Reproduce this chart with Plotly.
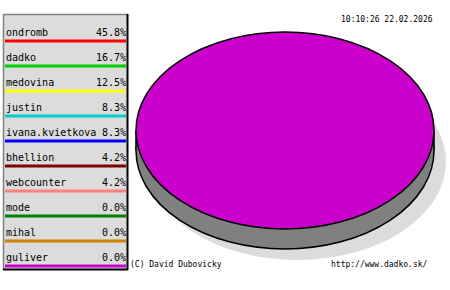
import plotly.graph_objects as go

names = ["ondromb", "dadko", "medovina", "justin", "ivana.kvietkova",
         "bhellion", "webcounter", "mode", "mihal", "guliver"]
percents = [45.8, 16.7, 12.5, 8.3, 8.3, 4.2, 4.2, 0.0, 0.0, 0.0]
colors = ["#ff0000", "#00d000", "#ffff00", "#00cccc", "#0000ff",
          "#800000", "#ff8080", "#008000", "#d08000", "#cc00cc"]
pie_color = "#cc00cc"
timestamp = "10:10:26 22.02.2026"
footer_left = "(C) David Dubovicky"
footer_right = "http://www.dadko.sk/"

W, H = 450, 290
fig = go.Figure()

shapes = []
annotations = []

# legend box
shapes.append(dict(type="rect", xref="x", yref="y", x0=3, x1=128, y0=14, y1=270,
                   fillcolor="#dcdcdc", line=dict(width=0), layer="below"))
shapes.append(dict(type="line", xref="x", yref="y", x0=3, x1=128, y0=14.5, y1=14.5,
                   line=dict(color="#808080", width=1.5)))
shapes.append(dict(type="line", xref="x", yref="y", x0=3.5, x1=3.5, y0=14, y1=270,
                   line=dict(color="#808080", width=1.5)))
shapes.append(dict(type="line", xref="x", yref="y", x0=127.5, x1=127.5, y0=14, y1=270,
                   line=dict(color="#000000", width=2)))
shapes.append(dict(type="line", xref="x", yref="y", x0=3, x1=128, y0=269.5, y1=269.5,
                   line=dict(color="#000000", width=2)))

row_h = 25
for i, (n, p, c) in enumerate(zip(names, percents, colors)):
    ty = 32 + row_h * i
    ly = 41 + row_h * i
    fig.add_trace(go.Scatter(x=[5, 126], y=[ly, ly], mode="lines",
                             line=dict(color=c, width=3), hoverinfo="skip",
                             showlegend=False))
    annotations.append(dict(x=3.5, y=ty, xref="x", yref="y", text=n, showarrow=False,
                            xanchor="left", yanchor="middle",
                            font=dict(family="DejaVu Sans Mono", size=10, color="#000")))
    annotations.append(dict(x=128, y=ty, xref="x", yref="y", text=f"{p:.1f}%",
                            showarrow=False, xanchor="right", yanchor="middle",
                            font=dict(family="DejaVu Sans Mono", size=10, color="#000")))

# 3D pie (all rendered in one colour as in reference)
cx, cy, rx, ry, depth = 285, 130.5, 149, 98.5, 20
sx, sy = 12, 11
shapes.append(dict(type="circle", xref="x", yref="y",
                   x0=cx - rx + sx, x1=cx + rx + sx, y0=cy - ry + depth + sy, y1=cy + ry + depth + sy,
                   fillcolor="#dcdcdc", line=dict(width=0)))
shapes.append(dict(type="circle", xref="x", yref="y",
                   x0=cx - rx, x1=cx + rx, y0=cy - ry + depth, y1=cy + ry + depth,
                   fillcolor="#808080", line=dict(color="#000", width=1.5)))
shapes.append(dict(type="rect", xref="x", yref="y",
                   x0=cx - rx, x1=cx + rx, y0=cy, y1=cy + depth,
                   fillcolor="#808080", line=dict(width=0)))
for xx in (cx - rx, cx + rx):
    shapes.append(dict(type="line", xref="x", yref="y", x0=xx, x1=xx, y0=cy, y1=cy + depth,
                       line=dict(color="#000", width=1.5)))
shapes.append(dict(type="circle", xref="x", yref="y",
                   x0=cx - rx, x1=cx + rx, y0=cy - ry, y1=cy + ry,
                   fillcolor=pie_color, line=dict(color="#000", width=1.5)))

annotations.append(dict(x=435, y=19, xref="x", yref="y", text=timestamp, showarrow=False,
                        xanchor="right", yanchor="middle",
                        font=dict(family="DejaVu Sans Mono", size=8, color="#000")))
annotations.append(dict(x=128, y=264, xref="x", yref="y", text=footer_left, showarrow=False,
                        xanchor="left", yanchor="middle",
                        font=dict(family="DejaVu Sans Mono", size=8, color="#000")))
annotations.append(dict(x=430, y=264, xref="x", yref="y", text=footer_right, showarrow=False,
                        xanchor="right", yanchor="middle",
                        font=dict(family="DejaVu Sans Mono", size=8, color="#000")))

fig.update_layout(
    width=W, height=H, margin=dict(l=0, r=0, t=0, b=0),
    paper_bgcolor="#ffffff", plot_bgcolor="#ffffff",
    xaxis=dict(range=[0, W], visible=False, fixedrange=True),
    yaxis=dict(range=[H, 0], visible=False, fixedrange=True),
    shapes=shapes, annotations=annotations, showlegend=False,
)

fig.write_html("out.html", config={"displayModeBar": False})
